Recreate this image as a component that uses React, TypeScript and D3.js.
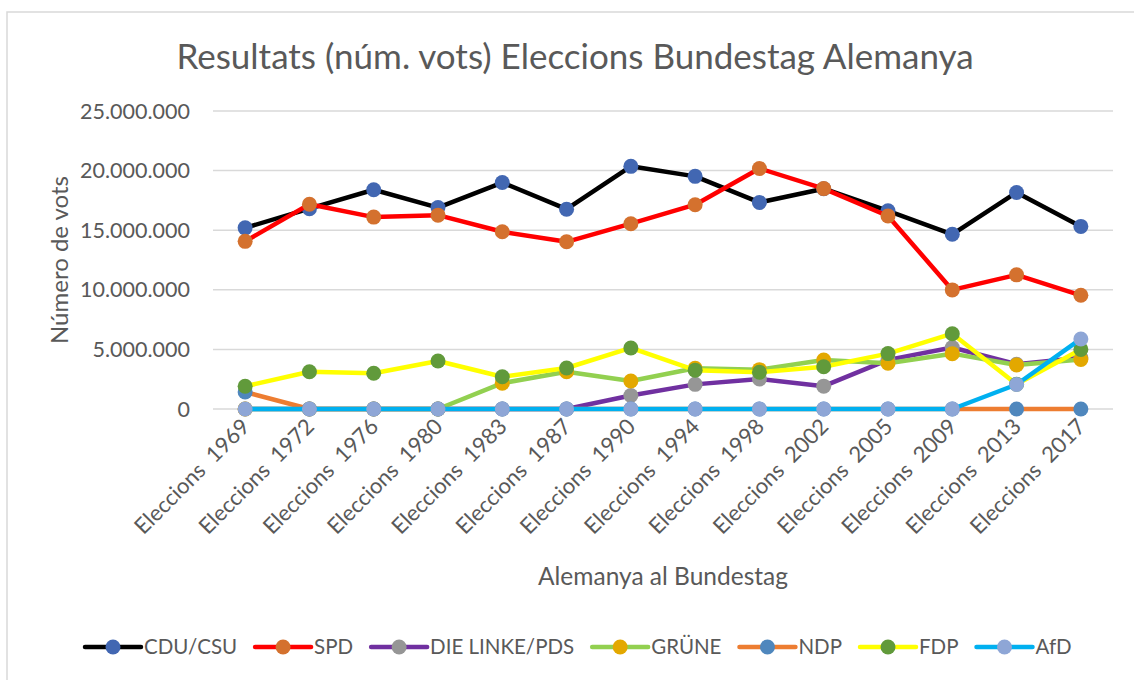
import React from "react";
import * as d3 from "d3";

// election years (x categories)
const categories = [
  "Eleccions  1969",
  "Eleccions  1972",
  "Eleccions  1976",
  "Eleccions  1980",
  "Eleccions  1983",
  "Eleccions  1987",
  "Eleccions  1990",
  "Eleccions  1994",
  "Eleccions  1998",
  "Eleccions  2002",
  "Eleccions  2005",
  "Eleccions  2009",
  "Eleccions  2013",
  "Eleccions  2017",
];

// votes per party
const cduCsu = [15195187, 16806020, 18394801, 16897659, 18998545, 16761572, 20358096, 19517156, 17329388, 18482165, 16631049, 14658515, 18165446, 15317344];
const spd = [14065716, 17175169, 16099019, 16260677, 14865807, 14025763, 15545366, 17140354, 20181269, 18488668, 16194665, 9990488, 11252215, 9539381];
const linke = [0, 0, 0, 0, 0, 0, 1129578, 2066176, 2515454, 1916702, 4118194, 5155933, 3755699, 4297270];
const grune = [0, 0, 0, 0, 2167431, 3126256, 2347407, 3424315, 3301624, 4110355, 3838326, 4643272, 3694057, 4158400];
const ndp = [1422010, 0, 0, 0, 0, 0, 0, 0, 0, 0, 0, 0, 0, 0];
const fdp = [1903422, 3129982, 2995085, 4030999, 2706942, 3440911, 5123233, 3258407, 3080955, 3538815, 4648144, 6316080, 2083533, 4999449];
const afd = [0, 0, 0, 0, 0, 0, 0, 0, 0, 0, 0, 0, 2056985, 5878115];

const yTicks = [0, 5000000, 10000000, 15000000, 20000000, 25000000];

const series = [
  { name: "CDU/CSU", values: cduCsu, line: "#000000", marker: "#4267b2" },
  { name: "SPD", values: spd, line: "#ff0000", marker: "#d4712e" },
  { name: "DIE LINKE/PDS", values: linke, line: "#7030a0", marker: "#969696" },
  { name: "GRÜNE", values: grune, line: "#92d050", marker: "#e3a800" },
  { name: "NDP", values: ndp, line: "#ed7d31", marker: "#4f87bd" },
  { name: "FDP", values: fdp, line: "#ffff00", marker: "#619a3b" },
  { name: "AfD", values: afd, line: "#00b0f0", marker: "#8ea6d6" },
];

const W = 1134;
const H = 680;
const FONT = "Lato, 'Open Sans', sans-serif";
const TXT = "#595959";

const locale = d3.formatLocale({
  decimal: ",",
  thousands: ".",
  grouping: [3],
  currency: ["", "€"],
});
const fmt = locale.format(",");

function measure(text: string, size: number) {
  const c = document.createElement("canvas").getContext("2d");
  if (!c) return text.length * size * 0.5;
  c.font = `${size}px Lato`;
  return c.measureText(text).width;
}

export default function App() {
  const x = d3.scalePoint<string>().domain(categories).range([213, 1113]).padding(0.5);
  const y = d3.scaleLinear().domain([0, 25000000]).range([409, 111]);

  const lineGen = d3
    .line<number>()
    .x((d, i) => x(categories[i]) as number)
    .y((d) => y(d));

  // legend layout
  const legSize = 20.5;
  const segW = 56;
  const gap = 18;
  const items = series.map((s) => ({ ...s, tw: measure(s.name, legSize) }));
  let lx = 85;
  const legendItems = items.map((it) => {
    const pos = lx;
    lx += segW + 3 + it.tw + gap;
    return { ...it, pos };
  });
  const ly = 647;

  return (
    <svg width={W} height={H} style={{ position: "absolute", left: 0, top: 0, background: "#fff" }} fontFamily={FONT}>
      <rect x={7} y={12} width={1140} height={700} fill="#fff" stroke="#d9d9d9" strokeWidth={1.5} />

      <text x={575} y={69} textAnchor="middle" fontSize={35} fill={TXT}>
        Resultats (núm. vots) Eleccions Bundestag Alemanya
      </text>

      {/* gridlines + y labels */}
      {yTicks.map((t) => (
        <g key={t}>
          <line x1={213} x2={1113} y1={y(t)} y2={y(t)} stroke="#d9d9d9" strokeWidth={1.5} />
          <text x={190} y={y(t)} dy="0.35em" textAnchor="end" fontSize={21.5} fill={TXT}>
            {fmt(t)}
          </text>
        </g>
      ))}

      {/* x labels */}
      {categories.map((c) => (
        <text
          key={c}
          transform={`translate(${(x(c) as number) + 6},${428}) rotate(-45)`}
          textAnchor="end"
          fontSize={22}
          fill={TXT}
          style={{ whiteSpace: "pre" }}
        >
          {c}
        </text>
      ))}

      <text x={663} y={585} textAnchor="middle" fontSize={24.5} fill={TXT}>
        Alemanya al Bundestag
      </text>
      <text transform="translate(68,260) rotate(-90)" textAnchor="middle" fontSize={24} fill={TXT}>
        Número de vots
      </text>

      {/* series */}
      {series.map((s) => (
        <g key={s.name}>
          <path d={lineGen(s.values) || ""} fill="none" stroke={s.line} strokeWidth={4.5} strokeLinejoin="round" strokeLinecap="round" />
          {s.values.map((v, i) => (
            <circle key={i} cx={x(categories[i]) as number} cy={y(v)} r={7.5} fill={s.marker} />
          ))}
        </g>
      ))}

      {/* legend */}
      {legendItems.map((it) => (
        <g key={it.name}>
          <line x1={it.pos} x2={it.pos + segW} y1={ly} y2={ly} stroke={it.line} strokeWidth={4.5} strokeLinecap="round" />
          <circle cx={it.pos + segW / 2} cy={ly} r={7.5} fill={it.marker} />
          <text x={it.pos + segW + 3} y={ly} dy="0.35em" fontSize={legSize} fill={TXT}>
            {it.name}
          </text>
        </g>
      ))}
    </svg>
  );
}
